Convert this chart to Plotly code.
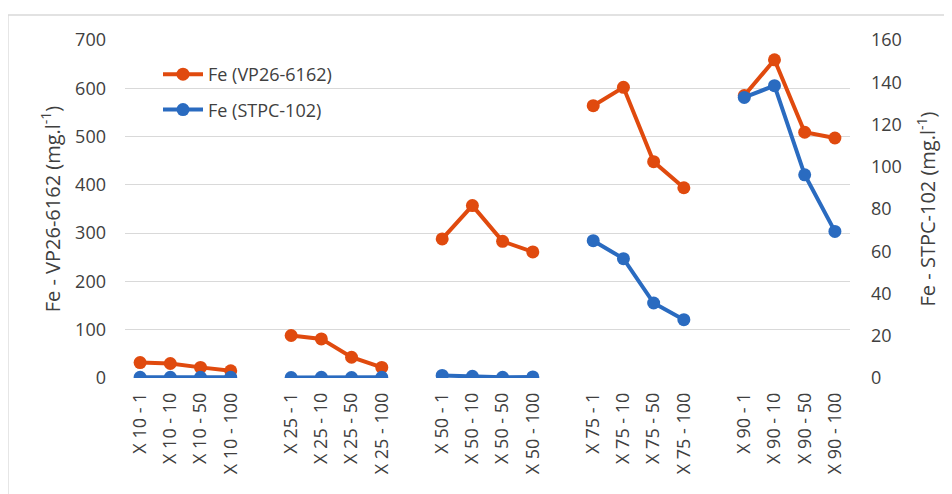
import plotly.graph_objects as go

categories = ["X 10 - 1", "X 10 - 10", "X 10 - 50", "X 10 - 100", "",
              "X 25 - 1", "X 25 - 10", "X 25 - 50", "X 25 - 100", "",
              "X 50 - 1", "X 50 - 10", "X 50 - 50", "X 50 - 100", "",
              "X 75 - 1", "X 75 - 10", "X 75 - 50", "X 75 - 100", "",
              "X 90 - 1", "X 90 - 10", "X 90 - 50", "X 90 - 100"]

fe_vp26 = [32, 30, 22, 15, None,
           88, 81, 43, 22, None,
           288, 357, 283, 261, None,
           564, 602, 448, 394, None,
           585, 659, 509, 497]

fe_stpc = [0.3, 0.3, 0.3, 0.3, None,
           0.2, 0.3, 0.2, 0.3, None,
           1.2, 0.8, 0.3, 0.5, None,
           65, 56.5, 35.5, 27.6, None,
           132.8, 138.4, 96.2, 69.4]

left_ticks = [0, 100, 200, 300, 400, 500, 600, 700]
right_ticks = [0, 20, 40, 60, 80, 100, 120, 140, 160]

orange = "#E04A0E"
blue = "#2A6BC0"
txt = "#404040"
FONT = "Open Sans"

xs = list(range(len(categories)))

fig = go.Figure()
fig.add_trace(go.Scatter(x=xs, y=fe_vp26, name="Fe (VP26-6162)", mode="lines+markers",
                         line=dict(color=orange, width=4), marker=dict(size=13, color=orange),
                         connectgaps=False, yaxis="y", legendgroup="a"))
fig.add_trace(go.Scatter(x=xs, y=fe_stpc, name="Fe (STPC-102)", mode="lines+markers",
                         line=dict(color=blue, width=4), marker=dict(size=13, color=blue),
                         connectgaps=False, yaxis="y2", legendgroup="b"))

# page body has an 8px margin, so work in figure coordinates
W, H = 944, 486
ml, mr, mt, mb = 117, 102, 32, 116
pw, ph = W - ml - mr, H - mt - mb

def px(x):
    return (x - ml) / pw

def py(y):
    return (H - mb - y) / ph

fig.update_layout(
    width=W, height=H,
    margin=dict(l=ml, r=mr, t=mt, b=mb, autoexpand=False),
    paper_bgcolor="white", plot_bgcolor="white",
    font=dict(family=FONT, color=txt, size=18),
    showlegend=True,
    legend=dict(x=px(150), y=py(48), xanchor="left", yanchor="top",
                bgcolor="rgba(0,0,0,0)", font=dict(size=18, color=txt),
                tracegroupgap=9, itemwidth=40),
    xaxis=dict(range=[-0.5, len(categories) - 0.5], tickmode="array",
               tickvals=xs, ticktext=categories, tickangle=-90,
               showgrid=False, zeroline=False, showline=False, automargin=False,
               ticks="", ticklabelstandoff=10, tickfont=dict(size=18, color=txt)),
    yaxis=dict(range=[0, 700], tickmode="array", tickvals=left_ticks,
               showgrid=True, gridcolor="#D9D9D9", gridwidth=1.3, zeroline=False,
               ticks="", ticklabelstandoff=18, tickfont=dict(size=18, color=txt), automargin=False,
               title=dict(text="Fe - VP26-6162 (mg.l<sup>-1</sup>)", font=dict(size=20, color=txt), standoff=9)),
    yaxis2=dict(range=[0, 160], tickmode="array", tickvals=right_ticks,
                overlaying="y", side="right", showgrid=False, zeroline=False,
                ticks="", ticklabelstandoff=20, tickfont=dict(size=18, color=txt), automargin=False,
                title=dict(text="Fe - STPC-102 (mg.l<sup>-1</sup>)", font=dict(size=20, color=txt), standoff=20)),
    shapes=[dict(type="rect", xref="paper", yref="paper",
                 x0=px(0), x1=px(960), y0=py(505), y1=py(7),
                 line=dict(color="#D9D9D9", width=1.3), fillcolor="rgba(0,0,0,0)", layer="below")],
)

fig.write_html("out.html")
